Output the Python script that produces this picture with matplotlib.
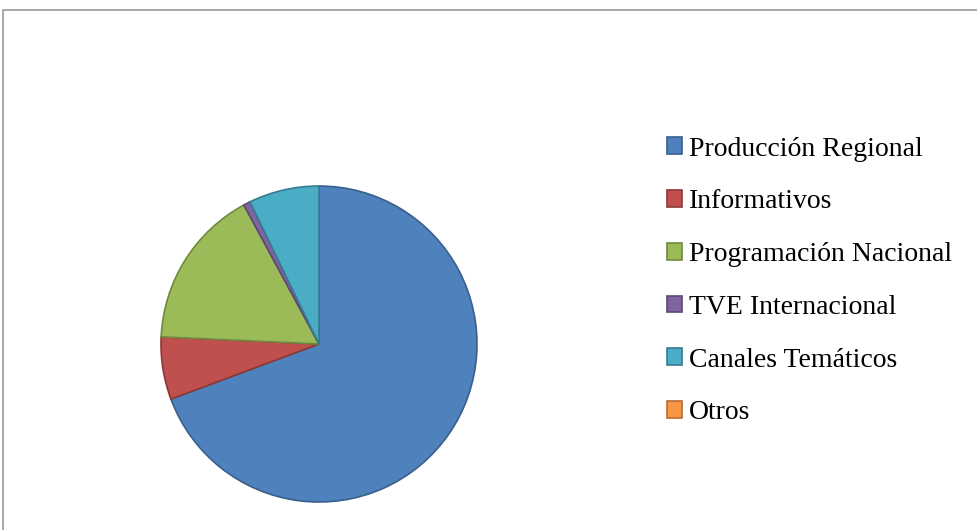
import matplotlib
matplotlib.use("Agg")
import matplotlib.pyplot as plt
from matplotlib.lines import Line2D
from matplotlib.patches import Patch

labels = ["Producción Regional", "Informativos", "Programación Nacional",
          "TVE Internacional", "Canales Temáticos", "Otros"]
values = [69.4, 6.4, 16.4, 0.7, 7.2, 0.0]
colors = ["#4F81BD", "#C0504D", "#9BBB59", "#8064A2", "#4BACC6", "#F79646"]
edges = ["#3A5F8B", "#8C3836", "#71893F", "#5C4776", "#357D91", "#B66D31"]

W, H = 978, 530
fig = plt.figure(figsize=(W / 100, H / 100), dpi=100)
fig.patch.set_facecolor("white")

# frame of the chart area (only top and left visible)
fx = 3.5 / W
fy = 1 - 9.5 / H
fig.add_artist(Line2D([fx, fx, 1.0], [0.0, fy, fy], transform=fig.transFigure,
                      color="#A0A0A0", linewidth=1.3))

cx, cy, r = 319, 344, 158
ax = fig.add_axes([(cx - r) / W, (H - cy - r) / H, 2 * r / W, 2 * r / H])
wedges, _ = ax.pie(values, colors=colors, startangle=90, counterclock=False,
                   wedgeprops=dict(linewidth=1.2))
for w, ec, v in zip(wedges, edges, values):
    w.set_edgecolor(ec)
    if v == 0:
        w.set_linewidth(0)  # zero slice draws nothing
ax.set_xlim(-1.0, 1.0)
ax.set_ylim(-1.0, 1.0)
ax.set_aspect("equal")
ax.axis("off")

handles = [Patch(facecolor=c, edgecolor=e, linewidth=1.2) for c, e in zip(colors, edges)]
fig.legend(handles, labels, loc="center left",
           bbox_to_anchor=(667 / W, (H - 281) / H),
           frameon=False, borderpad=0, borderaxespad=0,
           handlelength=0.55, handleheight=0.55, handletextpad=0.25,
           labelspacing=1.0,
           prop=dict(family="Liberation Serif", size=20))

fig.savefig("out.png", dpi=100)
